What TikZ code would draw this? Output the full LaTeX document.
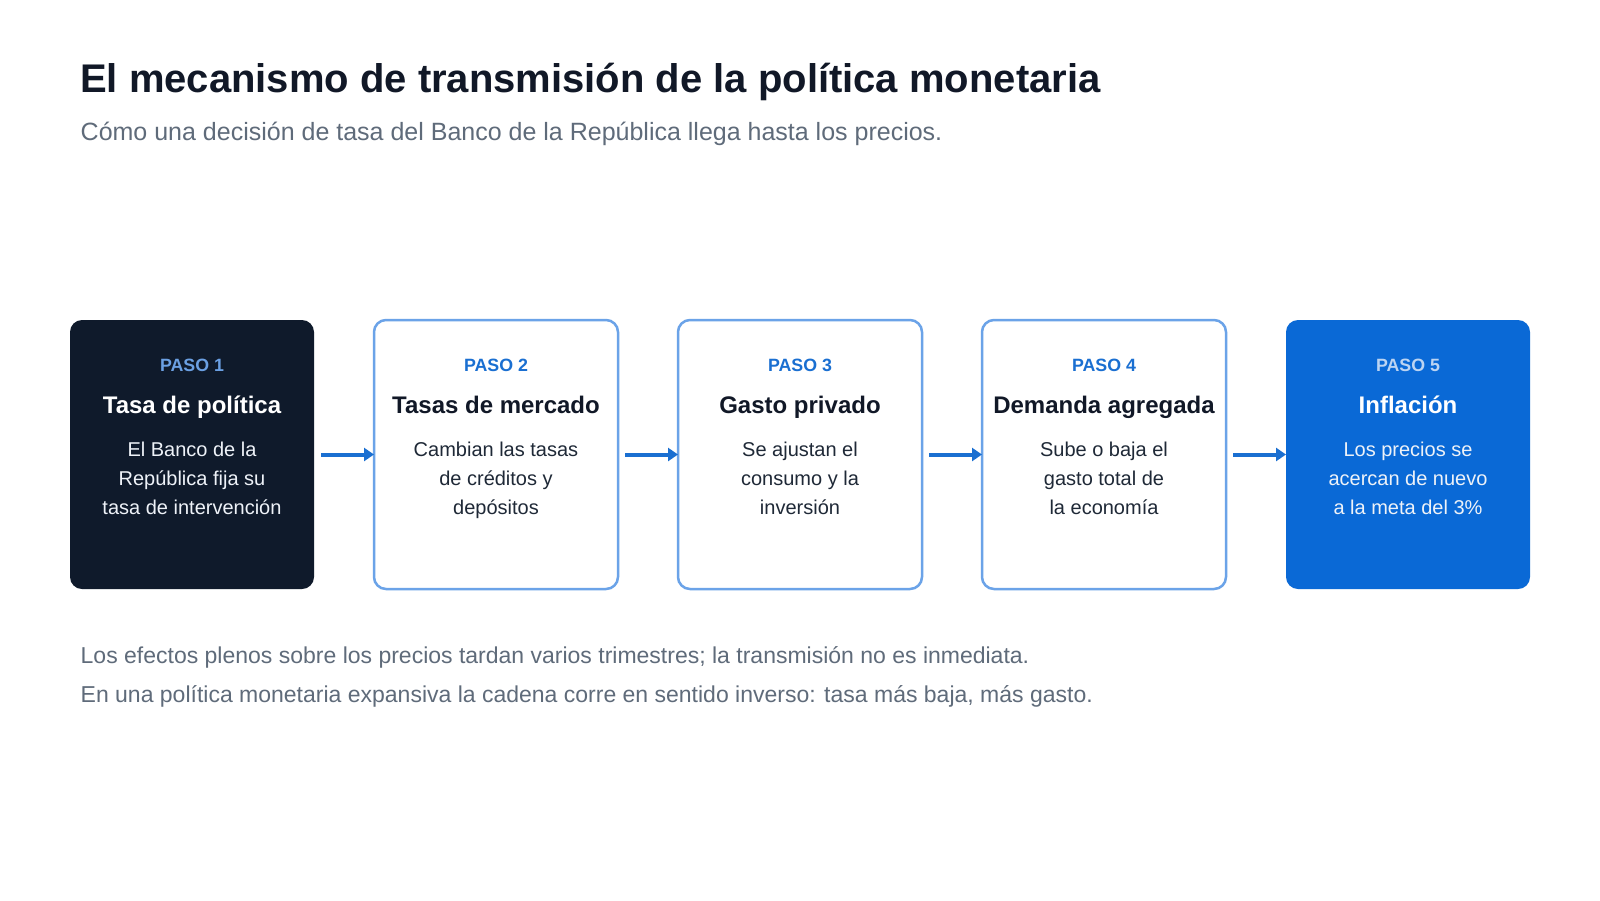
\documentclass[tikz,border=0pt]{standalone}
\usepackage{fontspec}
\setmainfont{Liberation Sans}
\usetikzlibrary{arrows.meta}
\definecolor{ink}{HTML}{111827}
\definecolor{navy}{HTML}{0F1A2B}
\definecolor{bluefill}{HTML}{0A69D6}
\definecolor{lightborder}{HTML}{6BA3E8}
\definecolor{arrowblue}{HTML}{1A6FD1}
\definecolor{greytext}{HTML}{5F6B7A}
\definecolor{pasodark}{HTML}{6BA0E3}
\definecolor{pasoblue}{HTML}{BCD4F2}
\definecolor{bodylight}{HTML}{EEF2F8}
\definecolor{bodytext}{HTML}{1F2937}
\tikzset{
  card/.style={rounded corners=12pt, minimum width=244pt, minimum height=269pt, inner sep=0pt, outer sep=0pt, anchor=north west},
  darkcard/.style={card, fill=navy},
  whitecard/.style={card, fill=white, draw=lightborder, line width=2.5pt},
  bluecard/.style={card, fill=bluefill},
  txt/.style={inner sep=0pt, anchor=base},
  paso/.style={txt, font=\fontsize{17.8}{21}\selectfont\bfseries},
  ctitle/.style={txt, font=\fontsize{24}{29}\selectfont\bfseries},
  cbody/.style={txt, font=\fontsize{20}{24}\selectfont},
  flow/.style={draw=arrowblue, line width=4pt, -{Triangle[length=10pt,width=13pt]}, shorten <=7pt},
}
\begin{document}
\begin{tikzpicture}[x=1pt,y=-1pt]
\useasboundingbox[fill=white] (0,0) rectangle (1600,900);
\node[inner sep=0pt, anchor=base west, text=ink, font=\fontsize{40}{48}\selectfont\bfseries] (title) at (80,92.3) {El mecanismo de transmisión de la política monetaria};
\node[inner sep=0pt, anchor=base west, text=greytext, font=\fontsize{25}{30}\selectfont] (subtitle) at (80.5,140.7) {Cómo una decisión de tasa del Banco de la República llega hasta los precios.};

% cards
\node[darkcard]  (c1) at (70,320) {};
\node[whitecard] (c2) at (374,320) {};
\node[whitecard] (c3) at (678,320) {};
\node[whitecard] (c4) at (982,320) {};
\node[bluecard]  (c5) at (1286,320) {};

% card texts
\foreach \c/\pc/\tc/\bc/\p/\t/\la/\lb/\lc in {
  c1/pasodark/white/bodylight/PASO 1/Tasa de política/El Banco de la/República fija su/tasa de intervención,
  c2/arrowblue/ink/bodytext/PASO 2/Tasas de mercado/Cambian las tasas/de créditos y/depósitos,
  c3/arrowblue/ink/bodytext/PASO 3/Gasto privado/Se ajustan el/consumo y la/inversión,
  c4/arrowblue/ink/bodytext/PASO 4/Demanda agregada/Sube o baja el/gasto total de/la economía,
  c5/pasoblue/white/bodylight/PASO 5/Inflación/Los precios se/acercan de nuevo/a la meta del 3\%}
{
  \path (\c.north) ++(0,51.7) node[paso, text=\pc] (\c-paso) {\p};
  \path (\c.north) ++(0,93) node[ctitle, text=\tc] (\c-title) {\t};
  \path (\c.north) ++(0,136) node[cbody, text=\bc] (\c-la) {\la};
  \path (\c.north) ++(0,165.3) node[cbody, text=\bc] (\c-lb) {\lb};
  \path (\c.north) ++(0,194.6) node[cbody, text=\bc] (\c-lc) {\lc};
}

% arrows
\foreach \a/\b in {c1/c2, c2/c3, c3/c4, c4/c5}
  \draw[flow] (\a.east) -- (\b.west);

% footnotes
\node[inner sep=0pt, anchor=base west, text=greytext, font=\fontsize{23}{28}\selectfont] (note1) at (80.5,663.5) {Los efectos plenos sobre los precios tardan varios trimestres; la transmisión no es inmediata.};
\node[inner sep=0pt, anchor=base west, text=greytext, font=\fontsize{23}{28}\selectfont] (note2) at (80.5,702.5) {En una política monetaria expansiva la cadena corre en sentido inverso: tasa más baja, más gasto.};
\end{tikzpicture}
\end{document}
